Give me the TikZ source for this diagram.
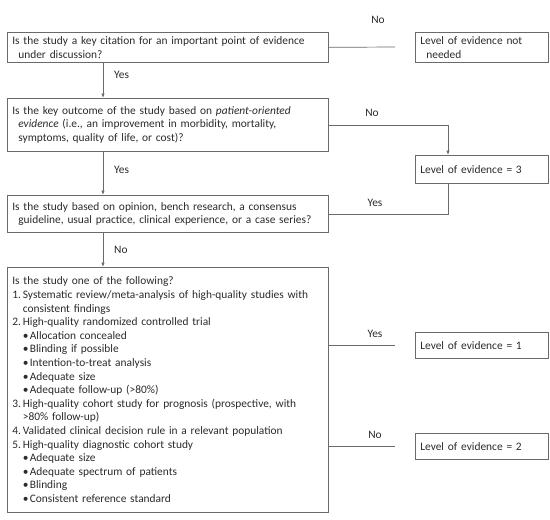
\documentclass[tikz,border=0pt]{standalone}
\usepackage{fontspec}
\setmainfont{Carlito}
\usetikzlibrary{arrows.meta,calc}
\definecolor{ln}{HTML}{6A6A6A}
\definecolor{tx}{HTML}{2A2A2A}
\newcommand{\ind}{\hspace*{6pt}}
\newcommand{\numi}[1]{\makebox[10.5pt][l]{#1.}}
\newcommand{\subi}{\hspace*{10.5pt}}
\newcommand{\bul}{\hspace*{10.5pt}\makebox[7pt][l]{\textbullet}}
\begin{document}
\begin{tikzpicture}[x=1pt,y=-1pt,
  every node/.style={font=\fontsize{11.4}{13.6}\selectfont, text=tx},
  box/.style={draw=ln, line width=0.7pt, rectangle, anchor=north west, align=left, inner xsep=5pt, inner ysep=3pt},
  conn/.style={draw=ln, line width=0.7pt},
  arr/.style={conn, -{Latex[length=4.5pt,width=3.5pt]}},
  lbl/.style={inner sep=1pt}]
\useasboundingbox (0,0) rectangle (550,520);
\coordinate (ax) at (103,0);
\coordinate (c3) at (448,0);

\node[box, minimum width=321, minimum height=30, text width=311] (q1) at (7,32)
  {Is the study a key citation for an important point of evidence\\\ind under discussion?};
\node[box, minimum width=133, minimum height=30, text width=123] (nn) at (415,32)
  {Level of evidence not\\\ind needed};
\node[box, minimum width=321, minimum height=53, text width=311] (q2) at (7,98)
  {Is the key outcome of the study based on \textit{patient-oriented}\\\ind\textit{evidence} (i.e., an improvement in morbidity, mortality,\\\ind symptoms, quality of life, or cost)?};
\node[box, minimum width=133, minimum height=28, text width=123] (l3) at (415,155)
  {Level of evidence = 3};
\node[box, minimum width=321, minimum height=37, text width=311] (q4) at (7,195)
  {Is the study based on opinion, bench research, a consensus\\\ind guideline, usual practice, clinical experience, or a case series?};
\node[box, minimum width=321, minimum height=245, text width=311] (q5) at (7,267)
  {Is the study one of the following?\\
   \numi{1}Systematic review/meta-analysis of high-quality studies with\\
   \subi consistent findings\\
   \numi{2}High-quality randomized controlled trial\\
   \bul Allocation concealed\\
   \bul Blinding if possible\\
   \bul Intention-to-treat analysis\\
   \bul Adequate size\\
   \bul Adequate follow-up (>80\%)\\
   \numi{3}High-quality cohort study for prognosis (prospective, with\\
   \subi >80\% follow-up)\\
   \numi{4}Validated clinical decision rule in a relevant population\\
   \numi{5}High-quality diagnostic cohort study\\
   \bul Adequate size\\
   \bul Adequate spectrum of patients\\
   \bul Blinding\\
   \bul Consistent reference standard};
\node[box, minimum width=133, minimum height=26, text width=123] (l1) at (415,332)
  {Level of evidence = 1};
\node[box, minimum width=133, minimum height=26, text width=123] (l2) at (415,433)
  {Level of evidence = 2};

\coordinate (e0) at (395,47);
\coordinate (e1) at (395,345);
\coordinate (e2) at (395,446);

\draw[conn] (q1.east) -- (e0);
\node[lbl] (tno1) at (378,20) {No};
\draw[arr] (q1.south -| ax) -- (q2.north -| ax);
\node[lbl, anchor=west] (tyes1) at (113,75) {Yes};
\draw[arr] (q2.east) -| (l3.north -| c3);
\node[lbl] (tno2) at (372,113) {No};
\draw[arr] (q2.south -| ax) -- (q4.north -| ax);
\node[lbl, anchor=west] (tyes2) at (113,170) {Yes};
\draw[conn] (l3.south -| c3) |- (q4.east);
\node[lbl] (tyes3) at (375,203) {Yes};
\draw[arr] (q4.south -| ax) -- (q5.north -| ax);
\node[lbl, anchor=west] (tno3) at (113,250) {No};
\draw[conn] (q5.east |- e1) -- (e1);
\node[lbl] (tyes4) at (375,334) {Yes};
\draw[conn] (q5.east |- e2) -- (e2);
\node[lbl] (tno4) at (375,435) {No};
\end{tikzpicture}
\end{document}
